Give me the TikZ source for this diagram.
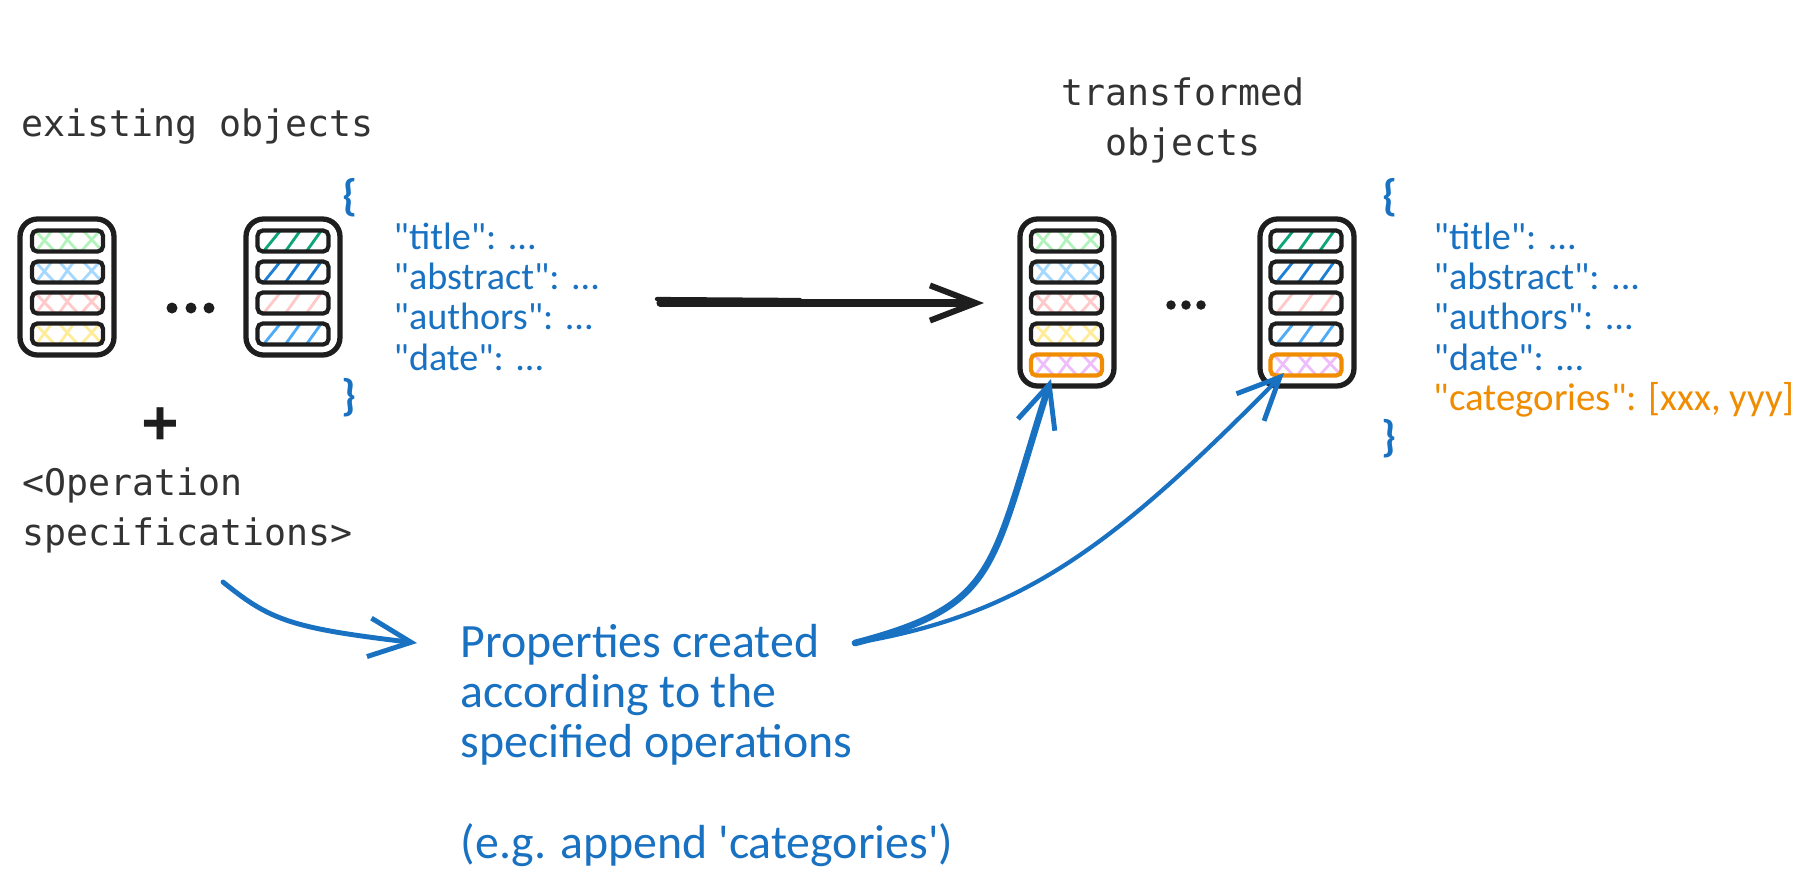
\documentclass[tikz,border=0pt]{standalone}
\usepackage{fontspec}
\newfontfamily\handfont{Carlito}
\newfontfamily\typedfont{DejaVu Sans Mono}
\usetikzlibrary{arrows.meta}
\definecolor{inkblack}{HTML}{1E1E1E}
\definecolor{typedgray}{HTML}{333333}
\definecolor{inkblue}{HTML}{1971C2}
\definecolor{inkorange}{HTML}{F08C00}
\definecolor{palegreen}{HTML}{B2F2BB}
\definecolor{paleblue}{HTML}{A5D8FF}
\definecolor{palered}{HTML}{FFC9C9}
\definecolor{paleyellow}{HTML}{FFEC99}
\definecolor{palepurple}{HTML}{EEBEFA}
\definecolor{deepgreen}{HTML}{0CA678}
\definecolor{deepblue}{HTML}{1C7ED6}
\definecolor{midblue}{HTML}{4DABF7}
\tikzset{
    objcard/.style={draw=inkblack,line width=1.5pt,rounded corners=5pt,inner sep=0pt,minimum width=94*0.01cm},
    objbar/.style={draw=inkblack,line width=1.2pt,rounded corners=1.5pt,inner sep=0pt,minimum width=71*0.01cm,minimum height=21*0.01cm},
    hatchline/.style={line width=0.8pt},
    typed/.style={text=typedgray,font=\typedfont\fontsize{10.4}{14.2}\selectfont,inner sep=0pt,align=left},
    hand/.style={text=inkblue,font=\handfont\fontsize{13.6}{14.2}\selectfont,inner sep=0pt,align=left},
    json/.style={text=inkblue,font=\handfont\fontsize{10.85}{11.38}\selectfont,inner sep=0pt,align=left},
    bracemark/.style={text=inkblue,font=\handfont\bfseries\fontsize{12.5}{12.5}\selectfont,inner sep=0pt},
    blueflow/.style={draw=inkblue,line width=1.4pt,line cap=round,-{Straight Barb[length=12pt,width=11pt,line width=1.4pt]}},
    dotmark/.style={circle,fill=inkblack,inner sep=0pt,minimum size=11*0.01cm},
}
% one bar of a card, with its hatching under the outline
\newcommand{\crossbar}[5]{
    \begin{scope}[shift={(#2,#3)}]
        \draw[hatchline,#4] (-32,11) -- (-16,-10) (-9,11) -- (6,-10) (13,11) -- (32,-10);
        \draw[hatchline,#4] (-32,-10) -- (-12,11) (-8,-10) -- (11,11) (16,-10) -- (33,8);
        \node[objbar,draw=#5] (#1) at (0,0) {};
    \end{scope}
}
\newcommand{\slashbar}[4]{
    \begin{scope}[shift={(#2,#3)}]
        \draw[hatchline,#4] (-30,11) -- (-13,-10) (-8,11) -- (7,-10) (13,11) -- (28,-10);
        \node[objbar] (#1) at (0,0) {};
    \end{scope}
}
\begin{document}
\begin{tikzpicture}[x=0.01cm,y=-0.01cm]
    \useasboundingbox (0,0) rectangle (1817,890);
    % titles
    \node[typed,anchor=base west] (existing) at (21,136) {existing objects};
    \node[typed,anchor=base,align=center] (transformed) at (1183,155) {transformed\\objects};
    \node[typed,anchor=base west] (operation) at (22,545) {<Operation\\specifications>};
    \node[text=inkblack,font=\typedfont\bfseries\fontsize{17}{17}\selectfont,inner sep=0pt] (plus) at (160,425) {+};
    % existing objects
    \node[objcard,minimum height=136*0.01cm] (cardA) at (67,287) {};
    \crossbar{greenA}{67.5}{241}{palegreen}{inkblack}
    \crossbar{blueA}{67.5}{272}{paleblue}{inkblack}
    \crossbar{redA}{67.5}{303}{palered}{inkblack}
    \crossbar{yellowA}{67.5}{334}{paleyellow}{inkblack}
    \node[dotmark] (dotA) at (172,308) {};
    \node[dotmark] (dotB) at (191,308) {};
    \node[dotmark] (dotC) at (209,308) {};
    \node[objcard,minimum height=136*0.01cm] (cardB) at (293,287) {};
    \slashbar{greenB}{293}{241}{deepgreen}
    \slashbar{blueB}{293}{272}{deepblue}
    \slashbar{redB}{293}{303}{palered}
    \slashbar{midB}{293}{334}{midblue}
    \node[bracemark] (openB) at (350,198) {\{};
    \node[json,anchor=base west] (fieldsB) at (393,370) {"title": ...\\"abstract": ...\\"authors": ...\\"date": ...};
    \node[bracemark] (closeB) at (349,398) {\}};
    % transformed objects
    \node[objcard,minimum height=167*0.01cm] (cardC) at (1067,302.5) {};
    \crossbar{greenC}{1066.5}{241}{palegreen}{inkblack}
    \crossbar{blueC}{1066.5}{272}{paleblue}{inkblack}
    \crossbar{redC}{1066.5}{303}{palered}{inkblack}
    \crossbar{yellowC}{1066.5}{334}{paleyellow}{inkblack}
    \crossbar{purpleC}{1066.5}{365}{palepurple}{inkorange}
    \node[dotmark,minimum size=9.5*0.01cm] (dotD) at (1171,305) {};
    \node[dotmark,minimum size=9.5*0.01cm] (dotE) at (1186,305) {};
    \node[dotmark,minimum size=9.5*0.01cm] (dotF) at (1201,305) {};
    \node[objcard,minimum height=167*0.01cm] (cardD) at (1307,302.5) {};
    \slashbar{greenD}{1306}{241}{deepgreen}
    \slashbar{blueD}{1306}{272}{deepblue}
    \slashbar{redD}{1306}{303}{palered}
    \slashbar{midD}{1306}{334}{midblue}
    \crossbar{purpleD}{1306}{365}{palepurple}{inkorange}
    \node[bracemark] (openD) at (1390,198) {\{};
    \node[json,anchor=base west] (fieldsD) at (1433,370) {"title": ...\\"abstract": ...\\"authors": ...\\"date": ...};
    \node[json,anchor=base west,text=inkorange,font=\handfont\fontsize{11.05}{11.38}\selectfont] (categories) at (1433,410) {"categories": [xxx, yyy]};
    \node[bracemark] (closeD) at (1389,439) {\}};
    % note
    \node[hand,anchor=base west] (note) at (460,757) {Properties created\\according to the\\specified operations};
    \node[hand,anchor=base west] (example) at (460,858) {(e.g. append 'categories')};
    % connectors
    \coordinate (flowstart) at (657,299);
    \coordinate (flowlow) at (660,303);
    \coordinate (flowbend) at (800,300);
    \coordinate (flowtip) at (984,303);
    \draw[inkblack,line width=1.2pt,line cap=round] (flowstart) -- (flowbend);
    \draw[inkblack,line width=2pt,line cap=round,-{Straight Barb[length=13pt,width=10pt,line width=1.7pt]}] (flowlow) -- (flowtip);
    \coordinate (opstart) at (223,582);
    \coordinate (notein) at (417,643);
    \coordinate (noteout) at (855,643);
    \coordinate (tipC) at (1051,379);
    \coordinate (tipD) at (1284,373);
    \draw[blueflow] (opstart) .. controls (270,620) and (290,628) .. (notein);
    \draw[blueflow,line width=1.9pt] (noteout) .. controls (1000,605) and (990,570) .. (tipC);
    \draw[blueflow,line width=1.2pt] (noteout) .. controls (1020,615) and (1110,550) .. (tipD);
\end{tikzpicture}
\end{document}
